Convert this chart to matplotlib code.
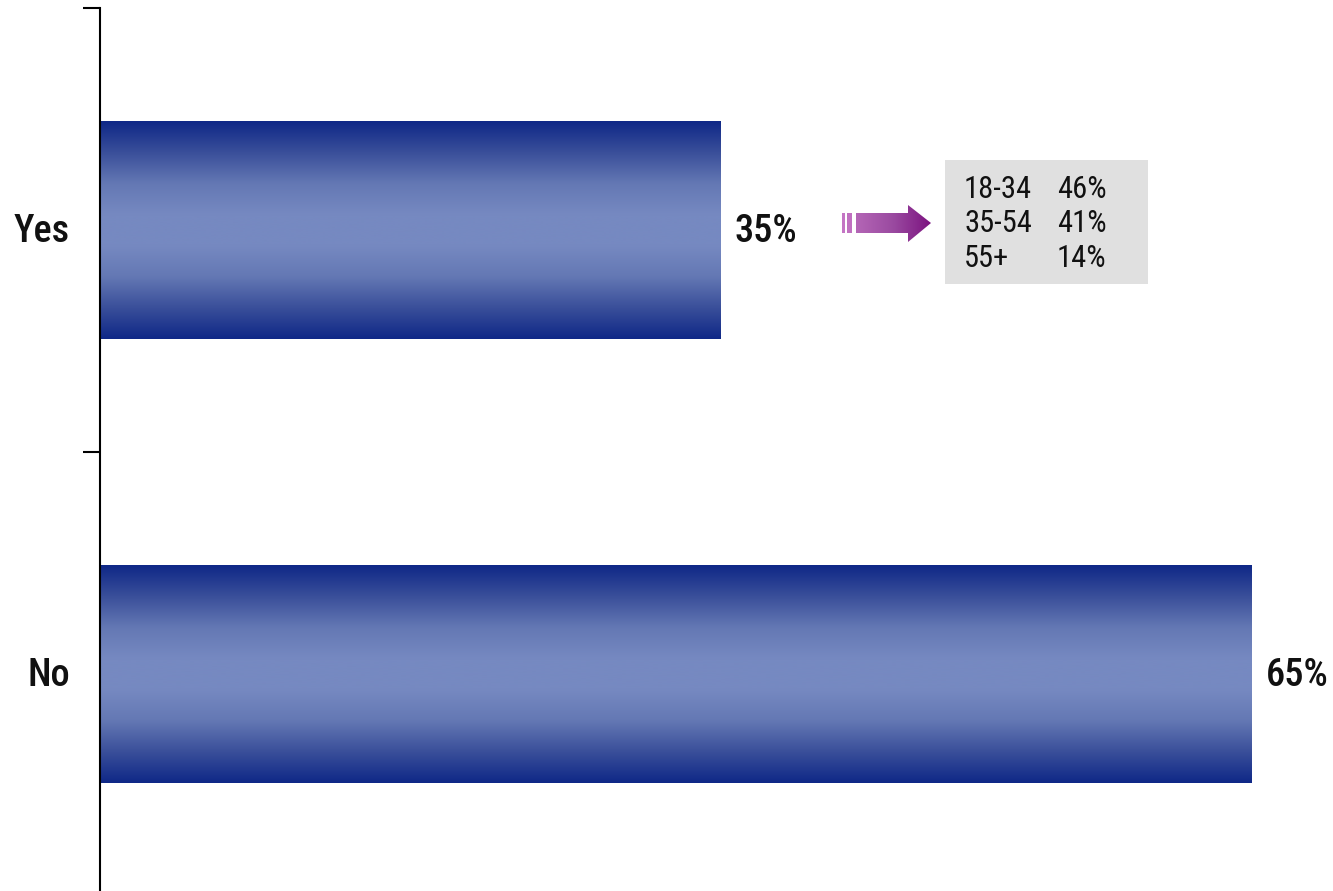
import numpy as np
import matplotlib
matplotlib.use("Agg")
import matplotlib.pyplot as plt
from matplotlib.colors import LinearSegmentedColormap
from matplotlib.patches import Polygon, Rectangle

# данные
categories = ["Yes", "No"]
values = [35, 65]
age_groups = ["18-34", "35-54", "55+"]
age_values = ["46%", "41%", "14%"]

plt.rcParams['font.family'] = ['Roboto Condensed', 'DejaVu Sans']

fig = plt.figure(figsize=(13.33, 8.91), dpi=100)
ax = fig.add_axes([100 / 1333, -5 / 891, 1233 / 1333, 888 / 891])

bar_cmap = LinearSegmentedColormap.from_list(
    "bar", ["#0f2887", "#3a4f9a", "#6478b4", "#7689c1", "#7689c1", "#6478b4", "#3a4f9a", "#0f2887"])
grad = np.linspace(0, 1, 256).reshape(-1, 1)

y_pos = np.arange(len(categories))
bars = ax.barh(y_pos, values, height=0.49, color="none", edgecolor="none")
for b, v in zip(bars, values):
    x0, y0 = b.get_x(), b.get_y()
    w, h = b.get_width(), b.get_height()
    im = ax.imshow(grad, cmap=bar_cmap, aspect="auto", extent=(x0, x0 + w, y0 + h, y0),
                   interpolation="bicubic", zorder=2)
    im.set_clip_path(b)
    # подпись значения справа от столбца
    ax.annotate(f"{v}%", (x0 + w, y0 + h / 2), xytext=(14, -11.5), textcoords="offset pixels",
                va="baseline", ha="left", fontsize=27.5, fontweight=500, color="#111111")

ax.set_xlim(0, 1233 / 17.72)
ax.set_ylim(1.5, -0.5)
ax.set_yticks([-0.5, 0.5, 1.5])
ax.set_yticklabels([])
for y, c in zip(y_pos, categories):
    ax.annotate(c, (0, y), xytext=(-30, -11.5), textcoords="offset pixels",
                ha="right", va="baseline", fontsize=27.5, fontweight=500, color="#111111")
ax.tick_params(axis="y", length=12, width=1.5, direction="out")
ax.set_xticks([])
for s in ["top", "right", "bottom"]:
    ax.spines[s].set_visible(False)
ax.spines["left"].set_linewidth(1.5)

# вставка с возрастными группами (в пикселях фигуры)
def px(x, y):
    return (x / 1333, 1 - y / 891)

box_x0, box_y0 = px(945, 284)
box_x1, box_y1 = px(1148, 160)
fig.patches.append(Rectangle((box_x0, box_y0), box_x1 - box_x0, box_y1 - box_y0,
                             transform=fig.transFigure, facecolor="#e0e0e0", edgecolor="none"))
for i, (g, v) in enumerate(zip(age_groups, age_values)):
    yy = 198 + i * 34.5
    fig.text(*px(964, yy), g, fontsize=22, va="baseline", ha="left", color="#111111")
    fig.text(*px(1057, yy), v, fontsize=22, va="baseline", ha="left", color="#111111")

# стрелка с градиентом
arrow_ax = fig.add_axes([0, 0, 1, 1], facecolor="none")
arrow_ax.set_xlim(0, 1333)
arrow_ax.set_ylim(891, 0)
arrow_ax.axis("off")
arrow_cmap = LinearSegmentedColormap.from_list("arr", ["#b466b6", "#9a4aa0", "#7c1380"])
hgrad = np.linspace(0, 1, 256).reshape(1, -1)
arrow_poly = Polygon([(856, 213), (908, 213), (908, 205), (931, 223), (908, 242),
                      (908, 233), (856, 233)], closed=True, facecolor="none", edgecolor="none")
arrow_ax.add_patch(arrow_poly)
im = arrow_ax.imshow(hgrad, cmap=arrow_cmap, aspect="auto", extent=(856, 931, 242, 205))
im.set_clip_path(arrow_poly)
arrow_ax.add_patch(Rectangle((842, 213), 2.5, 20, facecolor="#c475c4", edgecolor="none"))
arrow_ax.add_patch(Rectangle((847, 213), 5, 20, facecolor="#c070c0", edgecolor="none"))

plt.savefig("out.png", dpi=100)
